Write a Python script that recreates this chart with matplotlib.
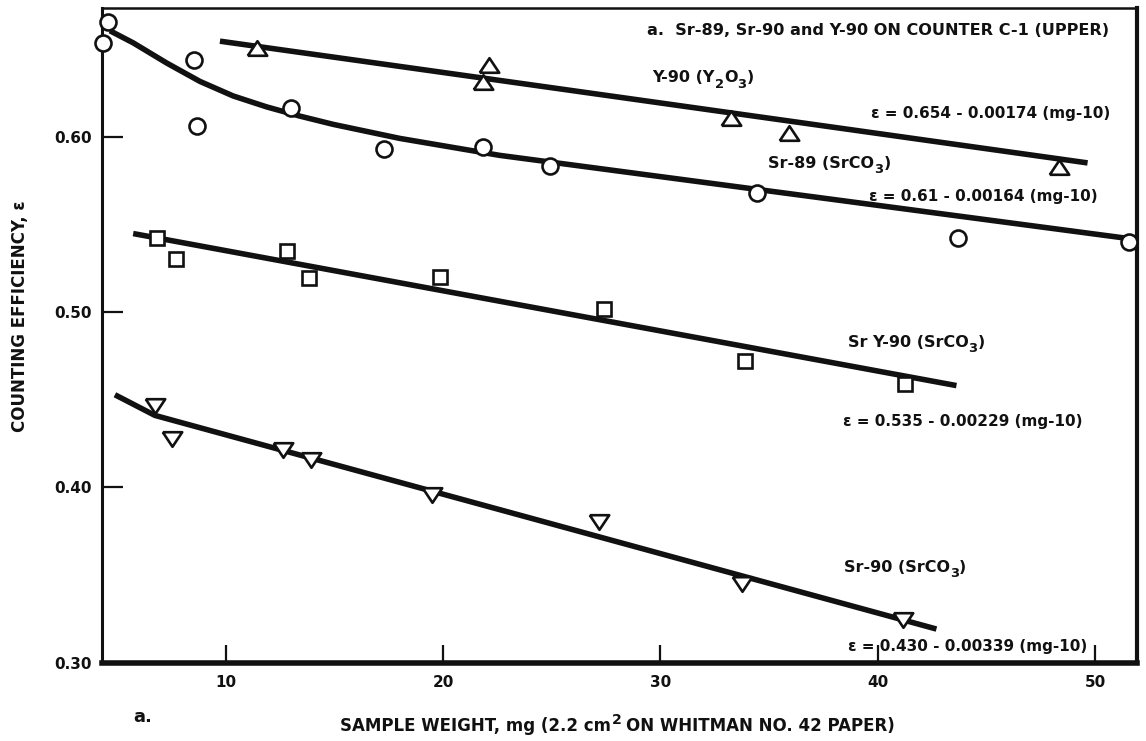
import numpy as np
import matplotlib
matplotlib.use("Agg")
import matplotlib.pyplot as plt
from matplotlib.transforms import ScaledTranslation

plt.rcParams["font.family"] = ["DejaVu Sans"]
plt.rcParams["font.weight"] = "bold"

INK = "#111111"

# Measured counting efficiencies vs. sample weight (mg)
y90_mg = [11.45, 21.82, 22.12, 33.26, 35.89, 48.33]
y90_eff = [0.6504, 0.6313, 0.6409, 0.6105, 0.6019, 0.5829]

sr89_mg = [4.34, 4.60, 8.56, 8.69, 12.99, 17.29, 21.84, 24.91, 34.43, 43.70, 51.56]
sr89_eff = [0.6536, 0.6655, 0.6437, 0.6063, 0.6162, 0.5928, 0.5940, 0.5835, 0.5681, 0.5421, 0.5402]

sry90_mg = [6.83, 7.70, 12.83, 13.84, 19.85, 27.41, 33.88, 41.25]
sry90_eff = [0.5421, 0.5301, 0.5345, 0.5193, 0.5202, 0.5017, 0.4722, 0.4589]

sr90_mg = [6.75, 7.52, 12.65, 13.95, 19.47, 27.18, 33.74, 41.13]
sr90_eff = [0.4466, 0.4276, 0.4215, 0.4158, 0.3958, 0.3801, 0.3446, 0.3242]

# Least-squares fits: eff = a - b (mg - 10), drawn over the plotted range
fit_y90 = (0.654, 0.00174, 9.74, 49.64)
fit_sr89 = (0.61, 0.00164, 22.6, 51.9)
fit_sry90 = (0.535, 0.00229, 5.75, 43.61)
fit_sr90 = (0.430, 0.00339, 6.75, 42.69)

# Hand-drawn low-weight portions of the Sr-89 and Sr-90 curves
sr89_curve_mg = [4.68, 5.75, 7.29, 8.82, 10.35, 11.88, 13.42, 14.95, 18.01]
sr89_curve_eff = [0.6604, 0.6535, 0.6420, 0.6315, 0.6232, 0.6170, 0.6117, 0.6070, 0.5990]
sr90_curve_mg = [4.91]
sr90_curve_eff = [0.4528]

x_ticks = [10, 20, 30, 40, 50]
y_ticks = [0.30, 0.40, 0.50, 0.60]

fig = plt.figure(figsize=(11.46, 7.41), dpi=100)
fig.patch.set_facecolor("white")
ax = fig.add_axes([0.0887, 0.1057, 0.9032, 0.8831])
ax.set_xlim(4.3, 51.9)
ax.set_ylim(0.30, 0.6732)


def fit_line(fit, lead_x=(), lead_y=()):
    a, b, x0, x1 = fit
    xs = np.array([x0, x1])
    ys = a - b * (xs - 10)
    return list(lead_x) + list(xs), list(lead_y) + list(ys)


line_kw = dict(color=INK, lw=4.0, solid_capstyle="butt", solid_joinstyle="round", zorder=2)
for fit, lx, ly in [
    (fit_y90, [], []),
    (fit_sr89, sr89_curve_mg, sr89_curve_eff),
    (fit_sry90, [], []),
    (fit_sr90, sr90_curve_mg, sr90_curve_eff),
]:
    xs, ys = fit_line(fit, lx, ly)
    ax.plot(xs, ys, **line_kw)

tri_up = [(-1.0, -0.75), (1.0, -0.75), (0.0, 0.75), (-1.0, -0.75)]
tri_dn = [(-1.0, 0.75), (1.0, 0.75), (0.0, -0.75), (-1.0, 0.75)]
mk_kw = dict(ls="none", mfc="white", mec=INK, mew=1.9, zorder=3, clip_on=False)
ax.plot(y90_mg, y90_eff, marker=tri_up, ms=14, **mk_kw)
ax.plot(sr89_mg, sr89_eff, marker="o", ms=11.5, **mk_kw)
ax.plot(sry90_mg, sry90_eff, marker="s", ms=10.5, **mk_kw)
ax.plot(sr90_mg, sr90_eff, marker=tri_dn, ms=14, **mk_kw)

# Axes frame and ticks
for side, w in {"left": 2.2, "top": 1.8, "right": 3.0, "bottom": 4.0}.items():
    ax.spines[side].set_linewidth(w)
    ax.spines[side].set_color(INK)
ax.set_xticks(x_ticks)
ax.set_xticklabels([f"{t:d}" for t in x_ticks])
ax.set_yticks(y_ticks)
ax.set_yticklabels([f"{t:.2f}" for t in y_ticks])
ax.tick_params(axis="x", direction="in", length=13, width=1.6, pad=9,
               labelsize=11, colors=INK)
ax.tick_params(axis="y", direction="in", length=15, width=1.6, pad=7,
               labelsize=11, colors=INK)

renderer = fig.canvas.get_renderer()


def rich_text(x, y, pieces, size, transform, ha="left"):
    """Draw a run of text pieces; each piece is (text, scale, rise_em, gap_em)."""
    widths = []
    for s, scale, rise, gap in pieces:
        t = fig.text(0, 0, s, fontsize=size * scale, fontweight="bold")
        widths.append(t.get_window_extent(renderer).width * 72 / fig.dpi)
        t.remove()
    total = sum(w + g * size for w, (_, _, _, g) in zip(widths, pieces))
    dx = {"left": 0.0, "center": -total / 2, "right": -total}[ha]
    base = -0.36 * size  # shift from visual centre line to baseline
    for w, (s, scale, rise, gap) in zip(widths, pieces):
        dx += gap * size
        off = ScaledTranslation(dx / 72, (base + rise * size) / 72, fig.dpi_scale_trans)
        fig.text(x, y, s, fontsize=size * scale, fontweight="bold", color=INK,
                 ha="left", va="baseline", transform=transform + off)
        dx += w


def compound(prefix, a, sub_a, b, sub_b):
    pieces = [(prefix + a, 1.0, 0.0, 0.0), (sub_a, 0.82, -0.32, 0.0)]
    if b:
        pieces.append((b, 1.0, 0.0, 0.0))
    pieces.append((sub_b, 0.82, -0.32, 0.0))
    pieces.append((")", 1.0, 0.0, 0.0))
    return pieces


txt = dict(color=INK, fontsize=11, fontweight="bold", va="center", ha="left")
ax.text(50.61, 0.6608, "a.  Sr-89, Sr-90 and Y-90 ON COUNTER C-1 (UPPER)",
        **{**txt, "fontsize": 11.6, "ha": "right"})

species = 11.5
rich_text(29.63, 0.6342, compound("Y-90 (", "Y", "2", "O", "3"), species, ax.transData)
rich_text(34.96, 0.5852, compound("Sr-89 (", "SrCO", "", "", "3"), species, ax.transData)
rich_text(38.61, 0.4832, compound("Sr Y-90 (", "SrCO", "", "", "3"), species, ax.transData)
rich_text(38.45, 0.3550, compound("Sr-90 (", "SrCO", "", "", "3"), species, ax.transData)

ax.text(39.67, 0.6133, "ε = 0.654 - 0.00174 (mg-10)", **txt)
ax.text(39.58, 0.5658, "ε = 0.61 - 0.00164 (mg-10)", **txt)
ax.text(38.37, 0.4376, "ε = 0.535 - 0.00229 (mg-10)", **txt)
ax.text(38.63, 0.3094, "ε = 0.430 - 0.00339 (mg-10)", **txt)

fig.text(0.0175, 0.573, "COUNTING EFFICIENCY, ε", rotation=90, ha="center",
         va="center", fontsize=12, fontweight="bold", color=INK)
rich_text(0.539, 0.0216,
          [("SAMPLE WEIGHT, mg (2.2 cm", 1.0, 0.0, 0.0),
           ("2", 0.85, 0.42, 0.0),
           ("ON WHITMAN NO. 42 PAPER)", 1.0, 0.0, 0.3)],
          12, fig.transFigure, ha="center")
fig.text(0.116, 0.0324, "a.", ha="left", va="center", fontsize=13,
         fontweight="bold", color=INK)

fig.savefig("out.png", dpi=100, facecolor="white")
